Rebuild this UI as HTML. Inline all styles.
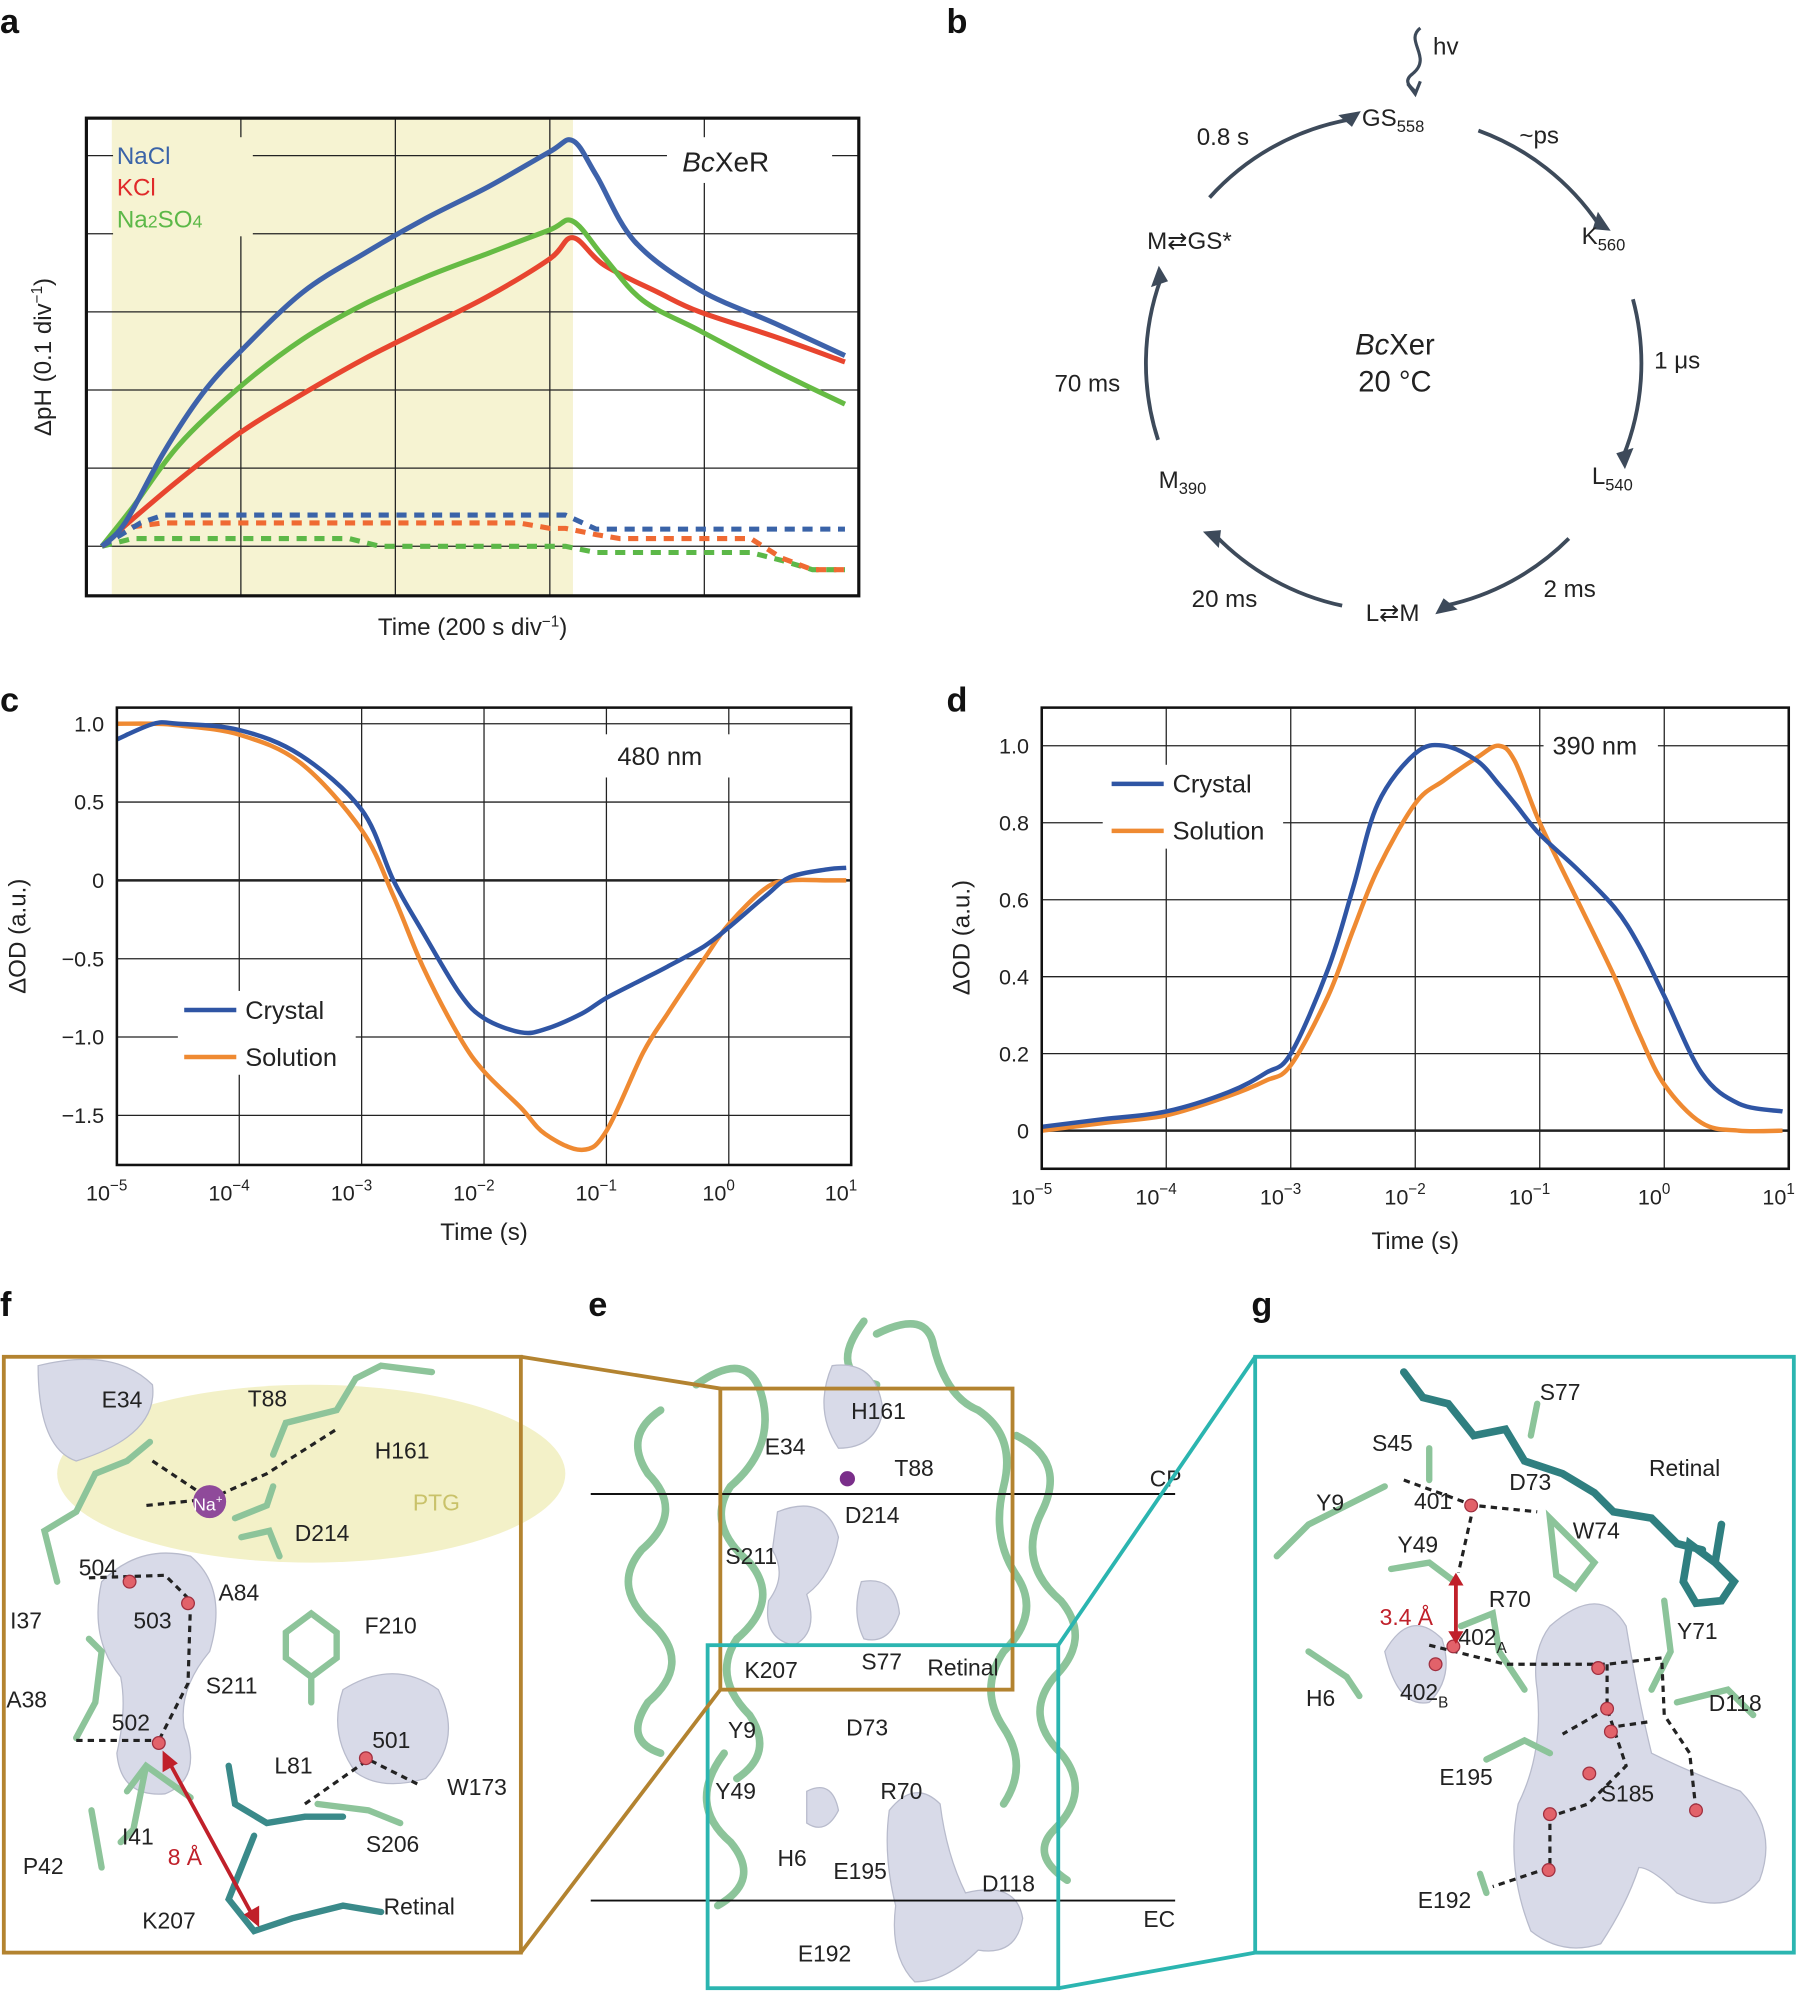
<!DOCTYPE html>
<html><head><meta charset="utf-8"><style>
html,body{margin:0;padding:0;background:#fff}
svg{display:block}
text{font-family:"Liberation Sans",sans-serif;fill:#222}
.pl{font-weight:bold;font-size:27px;fill:#111}
.res{font-size:18px;fill:#222}
</style></head><body>
<svg id="fig" width="1804" height="1992" viewBox="0 0 1420 1568" preserveAspectRatio="none" xmlns="http://www.w3.org/2000/svg">
<!-- Panel a -->
<g id="pa">
<text class="pl" x="0" y="26">a</text>
<rect x="88" y="93" width="363" height="376" fill="#f6f3d2"/>
<g id="a-grid" stroke="#222" stroke-width="1"></g>
<rect x="68" y="93" width="608" height="376" fill="none" stroke="#111" stroke-width="2.5"/>
<rect x="89" y="108" width="110" height="78" fill="#f6f3d2"/>
<text x="92" y="129" font-size="19" style="fill:#3a63a8">NaCl</text>
<text x="92" y="154" font-size="19" style="fill:#e02a2a">KCl</text>
<text x="92" y="179" font-size="19" style="fill:#5cb848">Na<tspan font-size="14">2</tspan>SO<tspan font-size="14">4</tspan></text>
<rect x="525" y="108" width="130" height="36" fill="#fff"/>
<text x="537" y="135" font-size="22"><tspan font-style="italic">Bc</tspan>XeR</text>
<g id="a-lines"></g>
<text x="40" y="281" font-size="19" transform="rotate(-90 40 281)" text-anchor="middle">ΔpH (0.1 div<tspan dy="-7" font-size="12">−1</tspan><tspan dy="7">)</tspan></text>
<text x="372" y="500" font-size="19" text-anchor="middle">Time (200 s div<tspan dy="-7" font-size="12">−1</tspan><tspan dy="7">)</tspan></text>
</g>

<!-- Panel b -->
<g id="pb">
<text class="pl" x="745" y="26">b</text>
<g id="b-arcs" fill="none" stroke="#3d4a5a" stroke-width="3"></g>
<path d="M1118 22 C1105 32,1128 45,1112 58 C1104 64,1110 68,1114 72" fill="none" stroke="#3d4a5a" stroke-width="2.5"/>
<path d="M1108 66 L1114 74 L1118 64" fill="none" stroke="#3d4a5a" stroke-width="2.5"/>
<text x="1128" y="43" font-size="19">hv</text>
<text x="1072" y="99" font-size="19">GS<tspan font-size="13" dy="5">558</tspan></text>
<text x="1245" y="192" font-size="19">K<tspan font-size="13" dy="5">560</tspan></text>
<text x="1253" y="381" font-size="19">L<tspan font-size="13" dy="5">540</tspan></text>
<text x="1075" y="489" font-size="19">L⇄M</text>
<text x="912" y="384" font-size="19">M<tspan font-size="13" dy="5">390</tspan></text>
<text x="903" y="196" font-size="19">M⇄GS*</text>
<text x="942" y="114" font-size="19">0.8 s</text>
<text x="1196" y="113" font-size="19">~ps</text>
<text x="1302" y="290" font-size="19">1 μs</text>
<text x="1215" y="470" font-size="19">2 ms</text>
<text x="938" y="478" font-size="19">20 ms</text>
<text x="830" y="308" font-size="19">70 ms</text>
<text x="1098" y="279" font-size="23" text-anchor="middle"><tspan font-style="italic">Bc</tspan>Xer</text>
<text x="1098" y="308" font-size="23" text-anchor="middle">20 °C</text>
</g>

<!-- Panel c -->
<g id="pc">
<text class="pl" x="0" y="560">c</text>
<g id="c-grid"></g>
<g id="c-lines"></g>
<rect x="92" y="557" width="578" height="360" fill="none" stroke="#111" stroke-width="2"/>
<rect x="470" y="578" width="110" height="34" fill="#fff"/>
<text x="486" y="602" font-size="20">480 nm</text>
<rect x="140" y="780" width="140" height="66" fill="#fff"/>
<line x1="145" y1="795" x2="186" y2="795" stroke="#2f55a4" stroke-width="3.5"/>
<text x="193" y="802" font-size="20">Crystal</text>
<line x1="145" y1="832" x2="186" y2="832" stroke="#ef8a32" stroke-width="3.5"/>
<text x="193" y="839" font-size="20">Solution</text>
<text x="20" y="737" font-size="19" transform="rotate(-90 20 737)" text-anchor="middle">ΔOD (a.u.)</text>
<text x="381" y="976" font-size="19" text-anchor="middle">Time (s)</text>
</g>

<!-- Panel d -->
<g id="pd">
<text class="pl" x="745" y="560">d</text>
<g id="d-grid"></g>
<g id="d-lines"></g>
<rect x="820" y="557" width="588" height="363" fill="none" stroke="#111" stroke-width="2"/>
<rect x="1215" y="572" width="90" height="30" fill="#fff"/>
<text x="1222" y="594" font-size="20">390 nm</text>
<rect x="868" y="602" width="142" height="66" fill="#fff"/>
<line x1="875" y1="617" x2="916" y2="617" stroke="#2f55a4" stroke-width="3.5"/>
<text x="923" y="624" font-size="20">Crystal</text>
<line x1="875" y1="654" x2="916" y2="654" stroke="#ef8a32" stroke-width="3.5"/>
<text x="923" y="661" font-size="20">Solution</text>
<text x="763" y="738" font-size="19" transform="rotate(-90 763 738)" text-anchor="middle">ΔOD (a.u.)</text>
<text x="1114" y="983" font-size="19" text-anchor="middle">Time (s)</text>
</g>

<!-- Panel f -->
<g id="pf">
<text class="pl" x="0" y="1036">f</text>
<ellipse cx="245" cy="1160" rx="200" ry="70" fill="#f3f1c8"/>
<path d="M30 1075 Q90 1060 120 1090 Q125 1130 60 1150 Q30 1140 30 1075Z" fill="#d8dae8" stroke="#b8bbcc"/>
<path d="M80 1245 Q110 1215 150 1225 Q180 1250 165 1300 Q140 1330 145 1360 Q160 1400 130 1412 Q95 1415 92 1380 Q100 1345 95 1320 Q70 1290 80 1245Z" fill="#d8dae8" stroke="#b8bbcc"/>
<path d="M270 1330 Q310 1305 345 1330 Q365 1370 335 1400 Q300 1410 280 1395 Q258 1365 270 1330Z" fill="#d8dae8" stroke="#b8bbcc"/>
<g fill="none" stroke="#8dc49a" stroke-width="5" stroke-linecap="round">
<path d="M45 1245 L35 1205 L60 1190 L75 1160 L100 1150 L118 1135"/>
<path d="M215 1145 L225 1120 L265 1110 L280 1085 L300 1075 L340 1080"/>
<path d="M185 1195 L210 1185 L215 1170 M190 1210 L212 1205 L220 1225"/>
<path d="M60 1368 L75 1340 L80 1300 L70 1290"/>
<path d="M225 1285 L245 1270 L265 1285 L265 1305 L245 1320 L225 1305Z M245 1320 L245 1340"/>
<path d="M100 1410 L115 1390 L150 1415 M115 1390 L105 1440 L95 1450"/>
<path d="M72 1425 L80 1470"/>
<path d="M250 1420 L290 1425 L315 1435"/>
</g>
<g fill="none" stroke="#3a8a8a" stroke-width="5" stroke-linecap="round"><path d="M180 1390 L185 1420 L210 1435 L240 1430 L270 1430 M200 1445 L180 1495 L200 1520 L230 1510 L270 1500 L300 1505"/></g>
<g fill="none" stroke="#222" stroke-width="2.5" stroke-dasharray="5,4">
<path d="M120 1150 L165 1180 L210 1160 L265 1125 M70 1242 L130 1240 L150 1260 L148 1325 L125 1370 M60 1370 L125 1370 M165 1180 L115 1185 M240 1420 L290 1385 L330 1405"/>
</g>
<circle cx="165" cy="1182" r="13" fill="#8f4a9a"/>
<text x="152" y="1189" font-size="14" style="fill:#fff">Na<tspan font-size="9" dy="-6">+</tspan></text>
<g fill="#e2626a" stroke="#a03040"><circle cx="102" cy="1245" r="5"/><circle cx="148" cy="1262" r="5"/><circle cx="125" cy="1372" r="5"/><circle cx="288" cy="1384" r="5"/></g>
<line x1="132" y1="1385" x2="200" y2="1510" stroke="#c0202a" stroke-width="3"/>
<path d="M128 1378 L128 1395 L140 1388Z M204 1517 L204 1500 L192 1507Z" fill="#c0202a"/>
<text x="132" y="1468" class="res" style="fill:#c0202a">8 Å</text>
<text x="80" y="1108" class="res">E34</text><text x="195" y="1107" class="res">T88</text><text x="295" y="1148" class="res">H161</text>
<text x="325" y="1189" class="res" style="fill:#c9c26a">PTG</text><text x="232" y="1213" class="res">D214</text>
<text x="62" y="1240" class="res">504</text><text x="172" y="1260" class="res">A84</text><text x="105" y="1282" class="res">503</text>
<text x="8" y="1282" class="res">I37</text><text x="287" y="1286" class="res">F210</text><text x="162" y="1333" class="res">S211</text>
<text x="5" y="1344" class="res">A38</text><text x="88" y="1362" class="res">502</text><text x="216" y="1396" class="res">L81</text>
<text x="293" y="1376" class="res">501</text><text x="352" y="1413" class="res">W173</text><text x="96" y="1452" class="res">I41</text>
<text x="288" y="1458" class="res">S206</text><text x="18" y="1475" class="res">P42</text><text x="302" y="1507" class="res">Retinal</text>
<text x="112" y="1518" class="res">K207</text>
<rect x="3" y="1068" width="407" height="469" fill="none" stroke="#b38330" stroke-width="3"/>
</g>

<!-- Panel e -->
<g id="pe">
<text class="pl" x="463" y="1036">e</text>
<g fill="none" stroke="#8cc49a" stroke-width="6" stroke-linecap="round">
<path d="M520 1110 Q490 1130 510 1160 Q540 1190 505 1220 Q480 1250 515 1280 Q545 1310 510 1340 Q490 1370 520 1380"/>
<path d="M548 1090 Q590 1060 600 1100 Q610 1140 575 1170 Q555 1200 590 1230 Q615 1260 580 1290 Q560 1320 590 1350 Q610 1380 580 1400"/>
<path d="M690 1050 Q730 1030 735 1060 Q745 1100 770 1110 Q800 1130 790 1170 Q780 1210 800 1240 Q820 1270 790 1300 Q770 1330 790 1360 Q810 1390 790 1420"/>
<path d="M800 1130 Q840 1150 820 1190 Q800 1230 835 1260 Q860 1290 830 1320 Q805 1350 835 1380 Q860 1410 830 1440 Q810 1460 840 1480"/>
<path d="M680 1040 Q650 1080 690 1090"/>
<path d="M570 1380 Q540 1420 575 1450 Q600 1480 565 1500"/>
</g>
<path d="M655 1075 Q690 1070 695 1110 Q690 1140 660 1140 Q640 1110 655 1075Z" fill="#d8dae8" stroke="#b8bbcc"/>
<path d="M612 1190 Q650 1175 660 1210 Q655 1240 635 1255 Q645 1285 625 1295 Q600 1290 605 1260 Q620 1240 608 1220Z" fill="#d8dae8" stroke="#b8bbcc"/>
<path d="M678 1245 Q705 1240 708 1270 Q700 1295 680 1290 Q670 1270 678 1245Z" fill="#d8dae8" stroke="#b8bbcc"/>
<path d="M635 1410 Q655 1400 660 1425 Q650 1445 635 1435Z" fill="#d8dae8" stroke="#b8bbcc"/>
<path d="M700 1425 Q720 1400 740 1420 Q745 1460 760 1490 Q800 1480 805 1510 Q800 1540 770 1535 Q745 1560 720 1560 Q700 1540 705 1500 Q695 1460 700 1425Z" fill="#d8dae8" stroke="#b8bbcc"/>
<circle cx="667" cy="1164" r="6" fill="#7a2e8a"/>
<line x1="465" y1="1176" x2="925" y2="1176" stroke="#111" stroke-width="1.5"/>
<line x1="465" y1="1496" x2="925" y2="1496" stroke="#111" stroke-width="1.5"/>
<text x="905" y="1170" class="res">CP</text><text x="900" y="1517" class="res">EC</text>
<text x="670" y="1117" class="res">H161</text><text x="602" y="1145" class="res">E34</text><text x="704" y="1162" class="res">T88</text>
<text x="665" y="1199" class="res">D214</text><text x="571" y="1231" class="res">S211</text>
<text x="586" y="1321" class="res">K207</text><text x="678" y="1314" class="res">S77</text><text x="730" y="1319" class="res">Retinal</text>
<text x="573" y="1368" class="res">Y9</text><text x="666" y="1366" class="res">D73</text><text x="563" y="1416" class="res">Y49</text>
<text x="693" y="1416" class="res">R70</text><text x="612" y="1469" class="res">H6</text><text x="656" y="1479" class="res">E195</text>
<text x="773" y="1489" class="res">D118</text><text x="628" y="1544" class="res">E192</text>
<rect x="567" y="1093" width="230" height="237" fill="none" stroke="#b38330" stroke-width="3"/>
<rect x="557" y="1295" width="276" height="270" fill="none" stroke="#2bb5b0" stroke-width="3"/>
<line x1="410" y1="1068" x2="567" y2="1093" stroke="#b38330" stroke-width="3"/>
<line x1="410" y1="1537" x2="567" y2="1330" stroke="#b38330" stroke-width="3"/>
<line x1="988" y1="1068" x2="833" y2="1295" stroke="#2bb5b0" stroke-width="3"/>
<line x1="988" y1="1537" x2="833" y2="1565" stroke="#2bb5b0" stroke-width="3"/>
</g>

<!-- Panel g -->
<g id="pg">
<text class="pl" x="985" y="1036">g</text>
<path d="M1090 1300 Q1110 1265 1135 1290 Q1145 1320 1125 1340 Q1100 1345 1090 1300Z" fill="#d8dae8" stroke="#b8bbcc"/>
<path d="M1220 1280 Q1260 1245 1280 1280 Q1290 1340 1300 1380 Q1330 1395 1370 1410 Q1400 1440 1385 1480 Q1360 1510 1320 1490 Q1300 1470 1290 1470 Q1280 1500 1260 1530 Q1230 1540 1205 1520 Q1185 1470 1195 1420 Q1215 1380 1210 1330 Q1205 1300 1220 1280Z" fill="#d8dae8" stroke="#b8bbcc"/>
<g fill="none" stroke="#2f7f80" stroke-width="6" stroke-linecap="round"><path d="M1105 1080 L1120 1100 L1140 1105 L1160 1130 L1185 1125 L1200 1150 L1230 1160 L1255 1175 L1270 1190 L1300 1195 L1320 1215 L1340 1220 M1330 1215 L1350 1230 L1365 1245 L1355 1260 L1335 1262 L1325 1245 Z M1350 1230 L1355 1200"/></g>
<g fill="none" stroke="#8cc49a" stroke-width="5" stroke-linecap="round"><path d="M1005 1225 L1030 1200 L1060 1185 L1090 1170 M1095 1235 L1125 1230 L1145 1245 M1030 1300 L1060 1320 L1070 1335 M1150 1280 L1175 1270 L1180 1300 L1200 1330 M1170 1385 L1200 1370 L1220 1380 M1320 1340 L1360 1330 L1380 1350 M1300 1330 L1315 1300 L1310 1260 M1165 1475 L1170 1490 M1220 1195 L1240 1215 L1255 1230 L1240 1250 L1225 1240 Z M1125 1140 L1125 1165 M1210 1105 L1205 1130"/></g>
<g fill="none" stroke="#222" stroke-width="2.5" stroke-dasharray="5,4"><path d="M1105 1165 L1160 1185 L1210 1190 M1160 1185 L1148 1238 M1125 1295 L1185 1310 L1265 1310 L1308 1305 L1310 1350 L1330 1380 L1335 1425 M1265 1310 L1265 1345 L1280 1390 L1250 1420 L1220 1430 L1220 1470 L1175 1485 M1265 1345 L1230 1365 M1265 1360 L1300 1355"/></g>
<g fill="#e2626a" stroke="#a03040"><circle cx="1158" cy="1185" r="5"/><circle cx="1144" cy="1296" r="5"/><circle cx="1130" cy="1310" r="5"/><circle cx="1258" cy="1313" r="5"/><circle cx="1265" cy="1345" r="5"/><circle cx="1268" cy="1363" r="5"/><circle cx="1251" cy="1396" r="5"/><circle cx="1220" cy="1428" r="5"/><circle cx="1219" cy="1472" r="5"/><circle cx="1335" cy="1425" r="5"/></g>
<line x1="1146" y1="1245" x2="1146" y2="1286" stroke="#c0202a" stroke-width="3"/>
<path d="M1140 1248 L1152 1248 L1146 1238Z M1140 1284 L1152 1284 L1146 1294Z" fill="#c0202a"/>
<text x="1086" y="1279" class="res" style="fill:#c0202a">3.4 Å</text>
<text x="1212" y="1102" class="res">S77</text><text x="1080" y="1142" class="res">S45</text><text x="1298" y="1162" class="res">Retinal</text>
<text x="1036" y="1189" class="res">Y9</text><text x="1113" y="1188" class="res">401</text><text x="1188" y="1173" class="res">D73</text>
<text x="1238" y="1211" class="res">W74</text><text x="1100" y="1222" class="res">Y49</text><text x="1172" y="1265" class="res">R70</text>
<text x="1148" y="1295" class="res">402<tspan font-size="12" dy="6">A</tspan></text><text x="1320" y="1290" class="res">Y71</text>
<text x="1028" y="1343" class="res">H6</text><text x="1102" y="1338" class="res">402<tspan font-size="12" dy="6">B</tspan></text>
<text x="1345" y="1347" class="res">D118</text><text x="1133" y="1405" class="res">E195</text><text x="1260" y="1418" class="res">S185</text>
<text x="1116" y="1502" class="res">E192</text>
<rect x="988" y="1068" width="424" height="469" fill="none" stroke="#2bb5b0" stroke-width="3"/>
</g>
</svg>
<script>
// ---- Panel a data (x, y in divisions) ----
const aNaClX=[0.1,0.25,0.5,0.75,1.0,1.4,1.8,2.2,2.6,3.0,3.15,3.3,3.55,3.97,4.46,4.91];
const aNaClY=[0,0.3,1.2,1.95,2.5,3.25,3.75,4.2,4.6,5.05,5.19,4.75,3.9,3.28,2.85,2.44];
const aKClX=[0.1,0.3,0.6,1.0,1.4,1.8,2.2,2.6,3.0,3.15,3.35,3.7,3.97,4.46,4.91];
const aKClY=[0,0.35,0.85,1.46,1.95,2.4,2.8,3.2,3.68,3.95,3.6,3.25,3.0,2.68,2.36];
const aNa2X=[0.1,0.3,0.6,1.0,1.4,1.8,2.2,2.6,3.0,3.15,3.35,3.6,3.97,4.46,4.91];
const aNa2Y=[0,0.5,1.3,2.05,2.65,3.1,3.45,3.75,4.05,4.16,3.7,3.15,2.76,2.25,1.82];
const aNaClDX=[0.1,0.35,0.5,2.2,3.1,3.3,3.55,4.91];
const aNaClDY=[0,0.3,0.4,0.4,0.4,0.22,0.22,0.22];
const aKClDX=[0.1,0.3,0.5,2.8,3.0,3.1,3.3,3.45,4.3,4.5,4.7,4.91];
const aKClDY=[0,0.25,0.3,0.3,0.23,0.23,0.15,0.1,0.1,-0.15,-0.3,-0.3];
const aNa2DX=[0.1,0.3,0.5,1.7,1.9,3.1,3.3,4.3,4.5,4.7,4.91];
const aNa2DY=[0,0.1,0.1,0.1,0,0,-0.08,-0.08,-0.18,-0.3,-0.3];
// ---- Panel c data (log10 t, dOD) ----
const cLogT=[-5,-4.7,-4.5,-4,-3.5,-3,-2.74,-2.5,-2.2,-2,-1.7,-1.5,-1.2,-1,-0.7,-0.5,-0.2,0,0.3,0.5,0.8,0.96];
const cCrystal=[0.9,1.0,1.0,0.96,0.8,0.45,0.0,-0.33,-0.72,-0.88,-0.97,-0.95,-0.85,-0.75,-0.63,-0.55,-0.42,-0.3,-0.1,0.02,0.07,0.08];
const cSolution=[1.0,1.0,0.99,0.93,0.75,0.32,-0.1,-0.55,-1.0,-1.22,-1.45,-1.62,-1.72,-1.6,-1.1,-0.85,-0.5,-0.28,-0.05,0.0,0.0,0.0];
const cYTicks=[1.0,0.5,0,-0.5,-1.0,-1.5];
const cYTickLabels=["1.0","0.5","0","−0.5","−1.0","−1.5"];
const cXTicks=[-5,-4,-3,-2,-1,0,1];
// ---- Panel d data ----
const dLogT=[-5,-4.5,-4,-3.5,-3.2,-3,-2.7,-2.5,-2.3,-2,-1.77,-1.5,-1.33,-1.2,-1,-0.7,-0.4,-0.2,0,0.3,0.6,0.95];
const dCrystal=[0.01,0.03,0.05,0.1,0.15,0.2,0.42,0.63,0.85,0.98,1.0,0.96,0.9,0.85,0.77,0.68,0.58,0.48,0.35,0.15,0.07,0.05];
const dSolution=[0.0,0.02,0.04,0.09,0.13,0.17,0.35,0.52,0.68,0.85,0.91,0.97,1.0,0.96,0.8,0.6,0.4,0.25,0.12,0.02,0.0,0.0];
const dYTicks=[0,0.2,0.4,0.6,0.8,1.0];
const dYTickLabels=["0","0.2","0.4","0.6","0.8","1.0"];
const dXTicks=[-5,-4,-3,-2,-1,0,1];
// ---- Panel b cycle arcs (angles in degrees, 0 = top, clockwise) ----
const bArcStart=[20,75,135,192,252,312];
const bArcEnd=[56,112,168,226,290,350];

const NS='http://www.w3.org/2000/svg';
function mk(tag,attrs,parent){const e=document.createElementNS(NS,tag);for(const k in attrs)e.setAttribute(k,attrs[k]);parent.appendChild(e);return e;}
function smooth(pts){let d='M'+pts[0][0].toFixed(1)+' '+pts[0][1].toFixed(1);for(let i=0;i<pts.length-1;i++){const p0=pts[Math.max(0,i-1)],p1=pts[i],p2=pts[i+1],p3=pts[Math.min(pts.length-1,i+2)];const c1=[p1[0]+(p2[0]-p0[0])/6,p1[1]+(p2[1]-p0[1])/6],c2=[p2[0]-(p3[0]-p1[0])/6,p2[1]-(p3[1]-p1[1])/6];d+=' C'+c1[0].toFixed(1)+' '+c1[1].toFixed(1)+','+c2[0].toFixed(1)+' '+c2[1].toFixed(1)+','+p2[0].toFixed(1)+' '+p2[1].toFixed(1);}return d;}
function lin(pts){return 'M'+pts.map(p=>p[0].toFixed(1)+' '+p[1].toFixed(1)).join(' L');}

// Panel a
const ax=v=>68+v*121.6, ay=v=>430-v*61.5;
const ag=document.getElementById('a-grid');
[1,2,3,4].forEach(i=>{const l=mk('line',{x1:ax(i),x2:ax(i),y1:93,y2:469},ag);});
[0,1,2,3,4,5].forEach(i=>{const l=mk('line',{x1:68,x2:676,y1:ay(i),y2:ay(i)},ag);});
const al=document.getElementById('a-lines');
function aLine(X,Y,col,dash,name,sm){const pts=X.map((x,i)=>[ax(x),ay(Y[i])]);const p=mk('path',{d:sm?smooth(pts):lin(pts),fill:'none',stroke:col,'stroke-width':4,'stroke-linejoin':'round'},al);if(dash)p.setAttribute('stroke-dasharray','8,6');}
aLine(aNa2DX,aNa2DY,'#5cb848',true,'line-na2so4-dark',false);
aLine(aKClDX,aKClDY,'#ef6a33',true,'line-kcl-dark',false);
aLine(aNaClDX,aNaClDY,'#3a63a8',true,'line-nacl-dark',false);
aLine(aKClX,aKClY,'#e8452f',false,'line-kcl',true);
aLine(aNa2X,aNa2Y,'#66bb44',false,'line-na2so4',true);
aLine(aNaClX,aNaClY,'#3e62aa',false,'line-nacl',true);

// Panel b arcs
const bg=document.getElementById('b-arcs');const cx=1097,cy=286,r=195;
function pt(a){const t=a*Math.PI/180;return [cx+r*Math.sin(t),cy-r*Math.cos(t)];}
bArcStart.forEach((s,i)=>{const e=bArcEnd[i];const a=pt(s),b=pt(e);const p=mk('path',{d:`M${a[0]} ${a[1]} A${r} ${r} 0 0 1 ${b[0]} ${b[1]}`},bg);
const t=e*Math.PI/180;const dx=Math.cos(t),dy=Math.sin(t);const nx=-Math.sin(t),ny=Math.cos(t);
const h=mk('path',{d:`M${b[0]+dx*9-nx*5} ${b[1]+dy*9-ny*5} L${b[0]+nx*6} ${b[1]+ny*6} L${b[0]-dx*9-nx*5} ${b[1]-dy*9-ny*5}Z`,fill:'#3d4a5a',stroke:'none'},bg);});

// Panels c, d
function logPanel(gid,lid,x0,x1,yf,ticksY,labY,ticksX,series,yb){
 const gx=v=>x0+(v+5)*(x1-x0)/6;const g=document.getElementById(gid);
 ticksX.forEach(t=>{const l=mk('line',{x1:gx(t),x2:gx(t),y1:557,y2:yb,stroke:'#222','stroke-width':1},g);
  const tx=mk('text',{x:gx(t)-8,y:yb+28,'font-size':17,'text-anchor':'middle'},g);tx.textContent='10';const s=mk('tspan',{dy:-8,'font-size':12},tx);s.textContent=(t<0?'−':'')+Math.abs(t);});
 ticksY.forEach((t,i)=>{const l=mk('line',{x1:x0,x2:x1,y1:yf(t),y2:yf(t),stroke:'#222','stroke-width':t===0?2:1},g);
  const tx=mk('text',{x:x0-10,y:yf(t)+6,'font-size':17,'text-anchor':'end'},g);tx.textContent=labY[i];});
 const lg=document.getElementById(lid);
 series.forEach(s=>{const pts=s.x.map((x,i)=>[gx(x),yf(s.y[i])]);const p=mk('path',{d:smooth(pts),fill:'none',stroke:s.c,'stroke-width':3.5},lg);});
}
logPanel('c-grid','c-lines',92,670,v=>693-v*123.3,cYTicks,cYTickLabels,cXTicks,[{x:cLogT,y:cSolution,c:'#ef8a32',n:'line-c-solution'},{x:cLogT,y:cCrystal,c:'#2f55a4',n:'line-c-crystal'}],917);
logPanel('d-grid','d-lines',820,1408,v=>890-v*303,dYTicks,dYTickLabels,dXTicks,[{x:dLogT,y:dSolution,c:'#ef8a32',n:'line-d-solution'},{x:dLogT,y:dCrystal,c:'#2f55a4',n:'line-d-crystal'}],920);
</script>
</body></html>
